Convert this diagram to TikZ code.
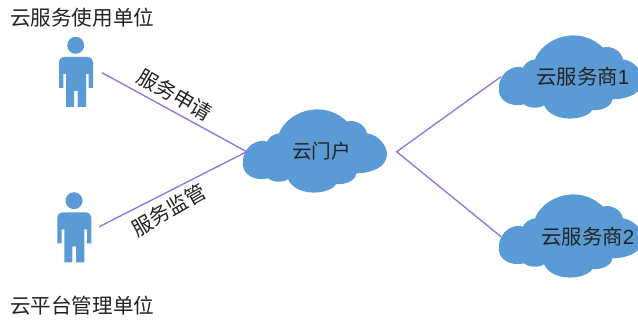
\documentclass[tikz,border=0pt]{standalone}
\usepackage{fontspec}
\newfontfamily\cjk{Noto Sans CJK SC}
\newfontfamily\latin{Liberation Sans}
\definecolor{linkc}{HTML}{9370DB}
\definecolor{cloudc}{HTML}{5B9BD5}
\definecolor{txt}{HTML}{222222}
\tikzset{
  x=1pt,y=-1pt,
  link/.style={draw=linkc,line width=1.3pt},
  label/.style={inner sep=0pt,text=txt,font=\cjk\fontsize{19.6}{22}\selectfont},
  titlelabel/.style={label,font=\cjk\fontsize{20.6}{22}\selectfont},
  edgelabel/.style={label,font=\cjk\fontsize{20.4}{22}\selectfont},
  cloudshape/.pic={
    \fill[cloudc,x=.3333pt,y=-.3333pt,shift={(-256,-183)}]
      (148,130) .. controls (170,70) and (275,22) .. (352,95)
      .. controls (372,88) and (405,100) .. (412,130)
      .. controls (450,135) and (480,175) .. (470,205)
      .. controls (460,240) and (410,250) .. (380,250)
      .. controls (378,275) and (340,285) .. (320,282)
      .. controls (300,315) and (200,322) .. (175,268)
      .. controls (155,280) and (125,275) .. (115,265)
      .. controls (70,275) and (35,250) .. (40,215)
      .. controls (40,165) and (90,145) .. (112,155)
      .. controls (115,145) and (130,132) .. (148,130) -- cycle;
  },
  personshape/.pic={
    \fill[cloudc] (0,0) circle [radius=8.5pt];
    \fill[cloudc,rounded corners=5pt] (-16.7,42.7) -- (-16.7,11.7) -- (17.3,11.7)
      [sharp corners] -- (17.3,42.7) -- (13,42.7) -- (13,28.7) -- (10.3,28.7) -- (10.3,61.7)
      -- (2,61.7) -- (2,45.7) -- (-1.7,45.7) -- (-1.7,61.7) -- (-9.7,61.7)
      -- (-9.7,28.7) -- (-12.4,28.7) -- (-12.4,42.7) -- cycle;
  }
}
\begin{document}
\begin{tikzpicture}
\useasboundingbox (0,0) rectangle (638,320);
\fill[white] (0,0) rectangle (638,320);

\pic at (75.7,45.3) {personshape};
\pic at (74,200.7) {personshape};
\pic at (315,151) {cloudshape};
\pic at (571,77) {cloudshape};
\pic at (571,236) {cloudshape};

\coordinate (userend) at (102,72.7);
\coordinate (adminend) at (99.3,226.7);
\coordinate (portalin) at (246.7,151.7);
\coordinate (portalout) at (396.7,151.7);
\coordinate (sponeend) at (501,76.7);
\coordinate (sptwoend) at (501,236.7);

\draw[link] (userend) -- (portalin);
\draw[link] (adminend) -- (portalin);
\draw[link] (sponeend) -- (portalout) -- (sptwoend);

\node[titlelabel,anchor=west] (user) at (10,18) {云服务使用单位};
\node[titlelabel,anchor=west] (admin) at (10,306) {云平台管理单位};
\node[label] (portal) at (321.5,151) {云门户};
\node[edgelabel,anchor=west] (spone) at (536,77) {云服务商{\latin\fontsize{20.5}{22}\selectfont 1}};
\node[edgelabel,anchor=west] (sptwo) at (541,237) {云服务商{\latin\fontsize{20.5}{22}\selectfont 2}};
\node[edgelabel,rotate=-30] (apply) at (175,95) {服务申请};
\node[edgelabel,rotate=30] (watch) at (168.5,210) {服务监管};
\end{tikzpicture}
\end{document}
